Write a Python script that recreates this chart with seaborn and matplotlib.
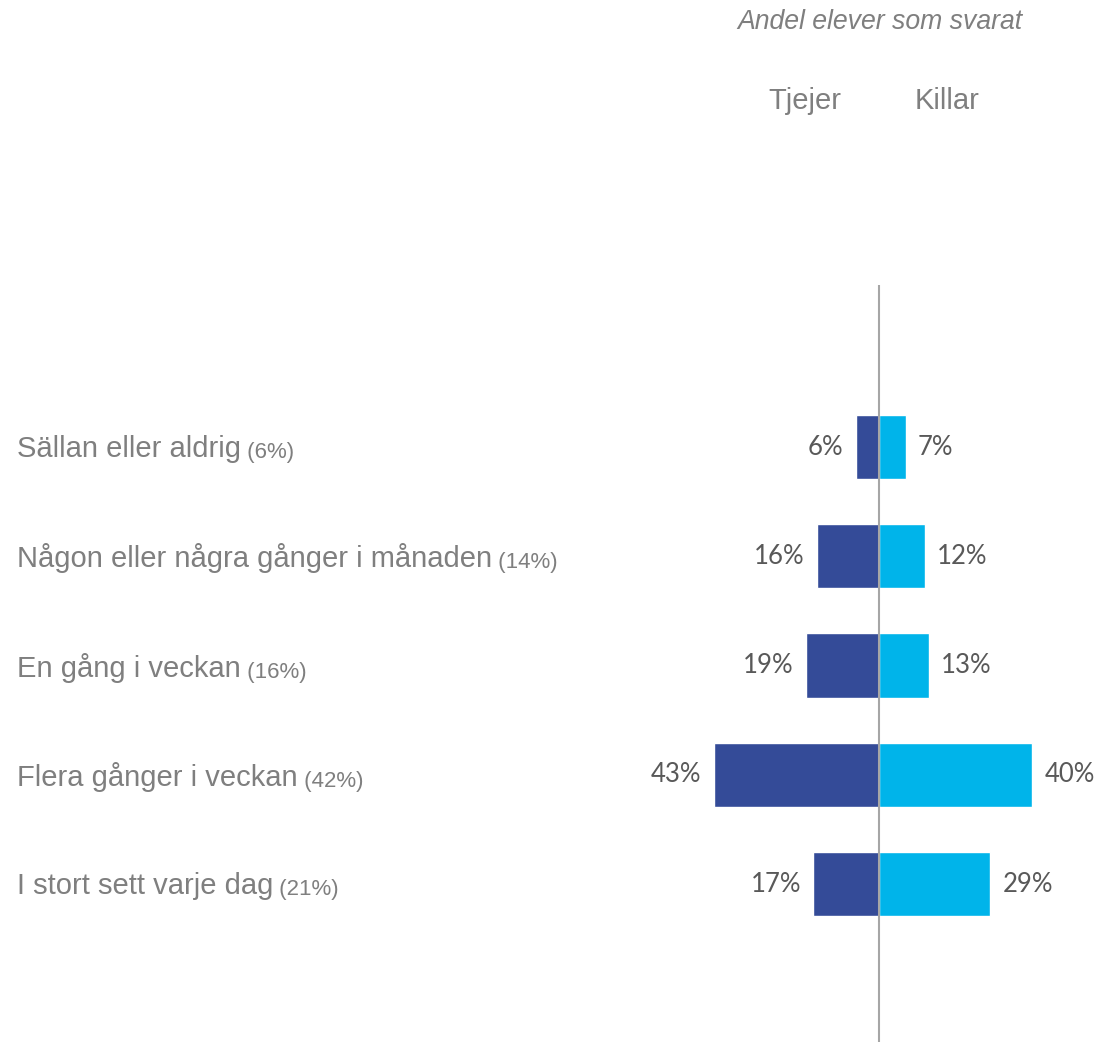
import pandas as pd
import matplotlib
matplotlib.use("Agg")
import matplotlib.pyplot as plt
import matplotlib.transforms as mtransforms
import seaborn as sns

# Data
categories = [
    "Sällan eller aldrig",
    "Någon eller några gånger i månaden",
    "En gång i veckan",
    "Flera gånger i veckan",
    "I stort sett varje dag",
]
totals = [6, 14, 16, 42, 21]
tjejer = [6, 16, 19, 43, 17]
killar = [7, 12, 13, 40, 29]
groups = ["Tjejer", "Killar"]
colors = {"Tjejer": "#344B98", "Killar": "#00B4EA"}

# long format, girls drawn to the left
df = pd.DataFrame({
    "category": categories * 2,
    "gender": ["Tjejer"] * len(categories) + ["Killar"] * len(categories),
    "value": [-v for v in tjejer] + killar,
})

sns.set_theme(style="white")
plt.rcParams["font.family"] = ["Liberation Sans", "DejaVu Sans"]

fig = plt.figure(figsize=(11.01, 10.44), dpi=100)
ax = fig.add_axes([600 / 1101, 2 / 1044, 501 / 1101, 757 / 1044])

sns.barplot(data=df, y="category", x="value", hue="gender", order=categories,
            hue_order=groups, palette=colors, dodge=False, width=0.59,
            orient="h", ax=ax, legend=False, saturation=1)

ax.set_xlim(-72.6, 57.9)
ax.set_ylim(5.446, -1.483)
ax.axvline(0, color="#A6A6A6", lw=1.5, zorder=5)
ax.set_xlabel("")
ax.set_ylabel("")
ax.set_xticks([])
ax.set_yticks([])
for s in ax.spines.values():
    s.set_visible(False)

# value labels
for i, (t, k) in enumerate(zip(tjejer, killar)):
    ax.annotate(f"{t}%", xy=(-t, i), xytext=(-9, 0), textcoords="offset points",
                ha="right", va="center", fontsize=18.5, color="#595959", family="Lato")
    ax.annotate(f"{k}%", xy=(k, i), xytext=(9, 0), textcoords="offset points",
                ha="left", va="center", fontsize=18.5, color="#595959", family="Lato")

# category labels on the left
trans = mtransforms.blended_transform_factory(fig.transFigure, ax.transData)
for i, (cat, tot) in enumerate(zip(categories, totals)):
    t = ax.text(17 / 1101, i + 0.02, cat, transform=trans, ha="left", va="center",
                fontsize=21, color="#7F7F7F")
    ax.annotate(f" ({tot}%)", xy=(1, 0), xycoords=t, ha="left", va="bottom",
                fontsize=16, color="#7F7F7F")

# header
fig.text(880 / 1101, 1 - 22 / 1044, "Andel elever som svarat", ha="center", va="center",
         fontsize=19.2, style="italic", color="#7F7F7F")
fig.text(805 / 1101, 1 - 101 / 1044, "Tjejer", ha="center", va="center",
         fontsize=21, color="#7F7F7F")
fig.text(947 / 1101, 1 - 101 / 1044, "Killar", ha="center", va="center",
         fontsize=21, color="#7F7F7F")

fig.savefig("out.png", dpi=100, facecolor="white")
